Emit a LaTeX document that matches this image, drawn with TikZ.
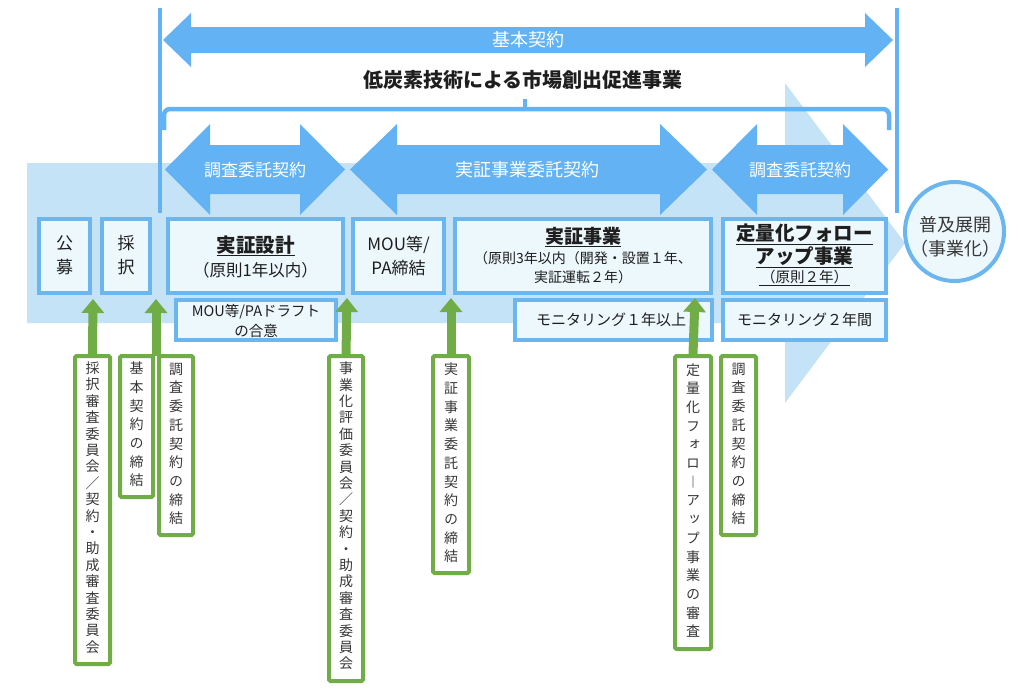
\documentclass[tikz,border=0pt]{standalone}
\usepackage{fontspec}
\setmainfont{Noto Sans CJK JP}
\newfontfamily\vfont[RawFeature=+vert]{Noto Sans CJK JP}
\usetikzlibrary{arrows.meta}
\definecolor{midblue}{RGB}{98,178,244}
\definecolor{lightbg}{RGB}{197,227,247}
\definecolor{boxline}{RGB}{108,182,240}
\definecolor{boxfill}{RGB}{237,248,253}
\definecolor{grn}{RGB}{112,173,71}
\definecolor{txt}{RGB}{30,30,30}
\definecolor{vtxt}{RGB}{55,55,55}
\newcommand\fs[1]{\fontsize{#1}{#1}\selectfont}
% box from outer edges: name, x1, y1, x2, y2, style
\newcommand\boxat[6]{\node[#6, minimum width={#4-#2-4}, minimum height={#5-#3-4}, inner sep=0] (#1) at ({(#2+#4)/2},{(#3+#5)/2}) {};}
% double arrow: x1 x2 head ytop yshafttop yshaftbot ybot
\newcommand\dblarr[7]{\fill[midblue] (#1,{(#4+#7)/2}) -- ({#1+#3},#4) -- ({#1+#3},#5) -- ({#2-#3},#5) -- ({#2-#3},#4) -- (#2,{(#4+#7)/2}) -- ({#2-#3},#7) -- ({#2-#3},#6) -- ({#1+#3},#6) -- ({#1+#3},#7) -- cycle;}
\begin{document}
\begin{tikzpicture}[x=1pt,y=-1pt,
  mainbox/.style={draw=boxline, fill=boxfill, line width=4pt},
  gbox/.style={draw=grn, fill=white, line width=4pt, rounded corners=1.5pt},
  garrow/.style={draw=grn, line width=9pt, -{Triangle[width=22pt,length=14pt]}},
  wl/.style={text=white, inner sep=0},
  t/.style={text=txt, inner sep=0},
  vt/.style={text=vtxt, inner sep=0, align=center},
  vsA/.style={font=\vfont\fontsize{14}{16.4}\selectfont},
  vsB/.style={font=\vfont\fontsize{14}{18.7}\selectfont}]
\useasboundingbox (0,0) rectangle (1011,688);
% background arrow
\fill[lightbg] (27,163) -- (785,163) -- (785,83) -- (905,243) -- (785,403) -- (785,323) -- (27,323) -- cycle;
% vertical lines
\draw[midblue, line width=4pt] (160,8) -- (160,213);
\draw[midblue, line width=4pt] (897,8) -- (897,213);
% top arrow
\dblarr{163}{893}{28}{13}{27}{53}{67}
\node[wl, font=\fs{18}] (kihon) at (528,40) {基本契約};
\node[t, font=\fs{20}\bfseries] (title) at (523,80) {低炭素技術による市場創出促進事業};
% brace
\draw[midblue, line width=4.5pt, rounded corners=6pt] (164,130) -- (164,109) -- (889,109) -- (889,130);
\draw[midblue, line width=4.5pt] (525,109) -- (525,99);
% contract arrows
\dblarr{165}{345}{45}{124}{145}{194}{215}
\dblarr{350}{707}{47}{124}{145}{194}{215}
\dblarr{712}{888}{45}{124}{145}{194}{215}
\node[wl, font=\fs{17}] (ca1) at (255,170) {調査委託契約};
\node[wl, font=\fs{18}] (ca2) at (527,170) {実証事業委託契約};
\node[wl, font=\fs{17}] (ca3) at (800,170) {調査委託契約};
% main boxes
\boxat{A}{37}{217}{92}{295}{mainbox}
\boxat{B}{100}{217}{152}{295}{mainbox}
\boxat{C}{166}{217}{345}{295}{mainbox}
\boxat{D}{351}{217}{446}{295}{mainbox}
\boxat{E}{453}{217}{713}{295}{mainbox}
\boxat{F}{721}{217}{888}{295}{mainbox}
\boxat{Cs}{174}{298}{338}{342}{mainbox}
\boxat{Es}{513}{298}{714}{342}{mainbox}
\boxat{Fs}{721}{298}{888}{342}{mainbox}
\node[circle, draw=boxline, fill=boxfill, line width=4pt, minimum size=99pt, inner sep=0] (G) at (954.5,231.5) {};
% box texts
\node[t, font=\fs{17}] (A1) at (64.5,243) {公};
\node[t, font=\fs{17}] (A2) at (64.5,267) {募};
\node[t, font=\fs{17}] (B1) at (126,243) {採};
\node[t, font=\fs{17}] (B2) at (126,267) {択};
\node[t, font=\fs{19.5}\bfseries] (C1) at (255.5,246) {\underline{実証設計}};
\node[t, font=\fs{16.5}] (C2) at (255.5,270) {（原則1年以内）};
\node[t, font=\fs{17}] (D1) at (398.5,245) {MOU等/};
\node[t, font=\fs{17}] (D2) at (398.5,268) {PA締結};
\node[t, font=\fs{19}\bfseries] (E1) at (583,237) {\underline{実証事業}};
\node[t, font=\fs{14}] (E2) at (583,258) {（原則3年以内（開発・設置１年、};
\node[t, font=\fs{14}] (E3) at (583,277) {実証運転２年）};
\node[t, font=\fs{19.5}\bfseries] (F1) at (804.5,234) {\underline{定量化フォロー}};
\node[t, font=\fs{19.5}\bfseries] (F2) at (804.5,257) {\underline{アップ事業}};
\node[t, font=\fs{14.5}] (F3) at (804.5,278) {\underline{\,（原則２年）\,}};
\node[t, font=\fs{14.5}] (Cs1) at (256,312) {MOU等/PAドラフト};
\node[t, font=\fs{14.5}] (Cs2) at (256,331) {の合意};
\node[t, font=\fs{15}] (Es1) at (611,320) {モニタリング１年以上};
\node[t, font=\fs{15}] (Fs1) at (804.5,320) {モニタリング２年間};
\node[text=vtxt, inner sep=0, font=\fs{18}] (G1) at (955,225) {普及展開};
\node[text=vtxt, inner sep=0, font=\fs{18}] (G2) at (955,249) {（事業化）};
% green boxes
\boxat{g1}{73}{354}{112}{666}{gbox}
\boxat{g2}{118}{354}{155}{499}{gbox}
\boxat{g3}{157}{354}{195}{537}{gbox}
\boxat{g4}{327}{354}{365}{683}{gbox}
\boxat{g5}{431}{354}{471}{575}{gbox}
\boxat{g6}{673}{354}{713}{651}{gbox}
\boxat{g7}{719}{354}{758}{537}{gbox}
\node[vt, vsA] (g1t) at (92.5,507.5) {採\\択\\審\\査\\委\\員\\会\\／\\契\\約\\・\\助\\成\\審\\査\\委\\員\\会};
\node[vt, vsB] (g2t) at (136.5,424.5) {基\\本\\契\\約\\の\\締\\結};
\node[vt, vsB] (g3t) at (176,444) {調\\査\\委\\託\\契\\約\\の\\締\\結};
\node[vt, vsA] (g4t) at (346,516) {事\\業\\化\\評\\価\\委\\員\\会\\／\\契\\約\\・\\助\\成\\審\\査\\委\\員\\会};
\node[vt, vsB] (g5t) at (451,463) {実\\証\\事\\業\\委\\託\\契\\約\\の\\締\\結};
\node[vt, vsB] (g6t) at (693,500.5) {定\\量\\化\\フ\\ォ\\ロ\\︱\\ア\\ッ\\プ\\事\\業\\の\\審\\査};
\node[vt, vsB] (g7t) at (738.5,444) {調\\査\\委\\託\\契\\約\\の\\締\\結};
% green arrows
\coordinate (tp1) at (93,299);
\coordinate (tp2) at (156,299);
\coordinate (tp3) at (347,298);
\coordinate (tp4) at (451,298);
\coordinate (tp5) at (695,298);
\coordinate (s2) at (156,356);
\draw[garrow] (g1.north) -- (tp1);
\draw[garrow] (s2) -- (tp2);
\draw[garrow] (g4.north) -- (tp3);
\draw[garrow] (g5.north) -- (tp4);
\draw[garrow] (g6.north) -- (tp5);
\end{tikzpicture}
\end{document}
